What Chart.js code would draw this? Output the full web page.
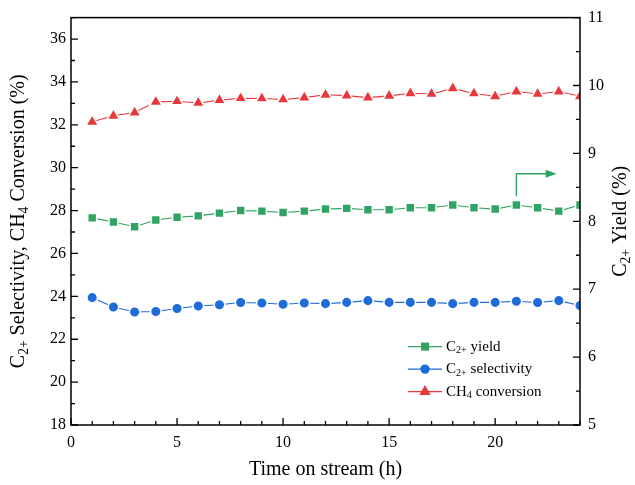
<!DOCTYPE html>
<html>
<head>
<meta charset="utf-8">
<script src="https://cdn.jsdelivr.net/npm/chart.js@4.4.0/dist/chart.umd.min.js"></script>
<style>
  html, body { margin: 0; padding: 0; background: #fff; }
</style>
</head>
<body>
<canvas id="chart" width="635" height="485"></canvas>
<script>
// Time on stream (h)
const hours = [1, 2, 3, 4, 5, 6, 7, 8, 9, 10, 11, 12, 13, 14, 15, 16, 17, 18, 19, 20, 21, 22, 23, 24];

// left axis (%)
const ch4Conversion = [32.14, 32.42, 32.57, 33.07, 33.10, 33.02, 33.15, 33.24, 33.23, 33.18, 33.27, 33.40,
                       33.36, 33.27, 33.35, 33.47, 33.44, 33.70, 33.46, 33.33, 33.55, 33.44, 33.55, 33.33];
const c2Selectivity = [23.94, 23.50, 23.27, 23.29, 23.43, 23.55, 23.61, 23.71, 23.69, 23.63, 23.69, 23.66,
                       23.72, 23.80, 23.72, 23.72, 23.72, 23.66, 23.72, 23.72, 23.77, 23.71, 23.80, 23.57];
// right axis (%)
const c2Yield = [8.05, 7.99, 7.92, 8.02, 8.06, 8.08, 8.12, 8.16, 8.15, 8.13, 8.15, 8.18,
                 8.19, 8.17, 8.17, 8.20, 8.20, 8.24, 8.20, 8.18, 8.24, 8.20, 8.15, 8.24];

const xTickLabels = [0, 5, 10, 15, 20];
const leftTickLabels = [18, 20, 22, 24, 26, 28, 30, 32, 34, 36];
const rightTickLabels = [5, 6, 7, 8, 9, 10, 11];

// arrow pointing yield series to the right axis: [hour, yield]
const arrowStart = [21, 8.37];
const arrowCorner = [21, 8.70];
const arrowEnd = [22.9, 8.70];

const RED = '#e8383d';
const BLUE = '#1f6cd8';
const GREEN = '#2fa463';
const SERIF = '"Liberation Serif", "Times New Roman", serif';

// text with subscripts, parts = [[text, isSub], ...]
function drawRich(ctx, parts, x, y, size, align) {
    let total = 0;
    parts.forEach(p => {
        ctx.font = (p[1] ? size * 0.68 : size) + 'px ' + SERIF;
        total += ctx.measureText(p[0]).width;
    });
    let cx = align === 'center' ? x - total / 2 : x;
    ctx.textAlign = 'left';
    ctx.textBaseline = 'middle';
    parts.forEach(p => {
        ctx.font = (p[1] ? size * 0.68 : size) + 'px ' + SERIF;
        ctx.fillText(p[0], cx, p[1] ? y + size * 0.28 : y);
        cx += ctx.measureText(p[0]).width;
    });
}

function drawMarker(ctx, style, x, y, r, color) {
    ctx.fillStyle = color;
    ctx.beginPath();
    if (style === 'rect') {
        const s = r * Math.SQRT1_2;
        ctx.rect(x - s, y - s, 2 * s, 2 * s);
    } else if (style === 'triangle') {
        ctx.moveTo(x, y - r);
        ctx.lineTo(x + r * 0.866, y + r * 0.5);
        ctx.lineTo(x - r * 0.866, y + r * 0.5);
        ctx.closePath();
    } else {
        ctx.arc(x, y, r, 0, Math.PI * 2);
    }
    ctx.fill();
}

const decorations = {
    id: 'decorations',
    afterDraw(chart) {
        const ctx = chart.ctx;
        const area = chart.chartArea;
        const xs = chart.scales.x, ys = chart.scales.y, ys1 = chart.scales.y1;
        ctx.save();

        // frame
        ctx.strokeStyle = '#000';
        ctx.lineWidth = 1.5;
        ctx.strokeRect(area.left, area.top, area.right - area.left, area.bottom - area.top);

        // inward tick marks
        ctx.lineWidth = 1.3;
        ctx.beginPath();
        xs.ticks.forEach(t => {
            const px = xs.getPixelForValue(t.value);
            const len = xTickLabels.includes(t.value) ? 7 : 4;
            ctx.moveTo(px, area.bottom);
            ctx.lineTo(px, area.bottom - len);
        });
        ys.ticks.forEach(t => {
            const py = ys.getPixelForValue(t.value);
            const len = leftTickLabels.includes(t.value) ? 7 : 4;
            ctx.moveTo(area.left, py);
            ctx.lineTo(area.left + len, py);
        });
        ys1.ticks.forEach(t => {
            const py = ys1.getPixelForValue(t.value);
            const len = rightTickLabels.includes(t.value) ? 7 : 4;
            ctx.moveTo(area.right, py);
            ctx.lineTo(area.right - len, py);
        });
        ctx.stroke();

        // arrow
        const ax0 = xs.getPixelForValue(arrowStart[0]), ay0 = ys1.getPixelForValue(arrowStart[1]);
        const ax1 = xs.getPixelForValue(arrowCorner[0]), ay1 = ys1.getPixelForValue(arrowCorner[1]);
        const ax2 = xs.getPixelForValue(arrowEnd[0]), ay2 = ys1.getPixelForValue(arrowEnd[1]);
        ctx.strokeStyle = GREEN;
        ctx.fillStyle = GREEN;
        ctx.lineWidth = 1.4;
        ctx.beginPath();
        ctx.moveTo(ax0, ay0);
        ctx.lineTo(ax1, ay1);
        ctx.lineTo(ax2 - 9, ay2);
        ctx.stroke();
        ctx.beginPath();
        ctx.moveTo(ax2, ay2);
        ctx.lineTo(ax2 - 11, ay2 - 4);
        ctx.lineTo(ax2 - 11, ay2 + 4);
        ctx.closePath();
        ctx.fill();

        // legend
        const legendRows = [
            { parts: [['C', 0], ['2+', 1], [' yield', 0]], ds: chart.data.datasets[2] },
            { parts: [['C', 0], ['2+', 1], [' selectivity', 0]], ds: chart.data.datasets[1] },
            { parts: [['CH', 0], ['4', 1], [' conversion', 0]], ds: chart.data.datasets[0] }
        ];
        const lx = area.right - 172;
        legendRows.forEach((row, i) => {
            const ly = area.top + 329 + i * 22.5;
            ctx.strokeStyle = row.ds.borderColor;
            ctx.lineWidth = 1.2;
            ctx.beginPath();
            ctx.moveTo(lx, ly);
            ctx.lineTo(lx + 34, ly);
            ctx.stroke();
            drawMarker(ctx, row.ds.pointStyle, lx + 17, ly, row.ds.pointRadius - 0.6, row.ds.borderColor);
            ctx.fillStyle = '#000';
            drawRich(ctx, row.parts, lx + 38, ly, 15, 'left');
        });

        // axis titles
        ctx.fillStyle = '#000';
        const midY = (area.top + area.bottom) / 2;
        drawRich(ctx, [['Time on stream (h)', 0]], (area.left + area.right) / 2, 470, 20, 'center');
        ctx.save();
        ctx.translate(19, midY);
        ctx.rotate(-Math.PI / 2);
        drawRich(ctx, [['C', 0], ['2+', 1], [' Selectivity, CH', 0], ['4', 1], [' Conversion (%)', 0]], 0, 0, 20, 'center');
        ctx.restore();
        ctx.save();
        ctx.translate(621, midY);
        ctx.rotate(-Math.PI / 2);
        drawRich(ctx, [['C', 0], ['2+', 1], [' Yield (%)', 0]], 0, 0, 20, 'center');
        ctx.restore();

        ctx.restore();
    }
};

const tickFont = { family: SERIF, size: 16 };

new Chart(document.getElementById('chart'), {
    type: 'line',
    data: {
        labels: hours,
        datasets: [
            {
                label: 'CH4 conversion',
                data: hours.map((h, i) => ({ x: h, y: ch4Conversion[i] })),
                yAxisID: 'y',
                borderColor: RED,
                backgroundColor: RED,
                pointStyle: 'triangle',
                pointRadius: 7.2,
                borderWidth: 1.1,
                pointBorderColor: '#fff',
                pointBorderWidth: 1.5
            },
            {
                label: 'C2+ selectivity',
                data: hours.map((h, i) => ({ x: h, y: c2Selectivity[i] })),
                yAxisID: 'y',
                borderColor: BLUE,
                backgroundColor: BLUE,
                pointStyle: 'circle',
                pointRadius: 5.3,
                borderWidth: 1.1,
                pointBorderColor: '#fff',
                pointBorderWidth: 1.5
            },
            {
                label: 'C2+ yield',
                data: hours.map((h, i) => ({ x: h, y: c2Yield[i] })),
                yAxisID: 'y1',
                borderColor: GREEN,
                backgroundColor: GREEN,
                pointStyle: 'rect',
                pointRadius: 6.3,
                borderWidth: 1.1,
                pointBorderColor: '#fff',
                pointBorderWidth: 1.5
            }
        ]
    },
    options: {
        responsive: false,
        animation: false,
        layout: { padding: { top: 16, left: 0, right: 0, bottom: 0 } },
        plugins: {
            legend: { display: false },
            tooltip: { enabled: false }
        },
        scales: {
            x: {
                type: 'linear',
                min: 0,
                max: 24,
                grid: { display: false, drawTicks: false },
                border: { display: false },
                ticks: {
                    stepSize: 1,
                    autoSkip: false,
                    maxRotation: 0,
                    padding: 8,
                    color: '#000',
                    font: tickFont,
                    callback: v => xTickLabels.includes(v) ? v : ''
                },
                afterFit: s => { s.height = 60; }
            },
            y: {
                position: 'left',
                min: 18,
                max: 37,
                grid: { display: false, drawTicks: false },
                border: { display: false },
                ticks: {
                    stepSize: 1,
                    autoSkip: false,
                    padding: 5,
                    color: '#000',
                    font: tickFont,
                    callback: v => leftTickLabels.includes(v) ? v : ''
                },
                afterFit: s => { s.width = 71; }
            },
            y1: {
                position: 'right',
                min: 5,
                max: 11,
                grid: { display: false, drawTicks: false },
                border: { display: false },
                ticks: {
                    stepSize: 0.5,
                    autoSkip: false,
                    padding: 8,
                    color: '#000',
                    font: tickFont,
                    callback: v => rightTickLabels.includes(v) ? v : ''
                },
                afterFit: s => { s.width = 55; }
            }
        }
    },
    plugins: [decorations]
});
</script>
</body>
</html>
